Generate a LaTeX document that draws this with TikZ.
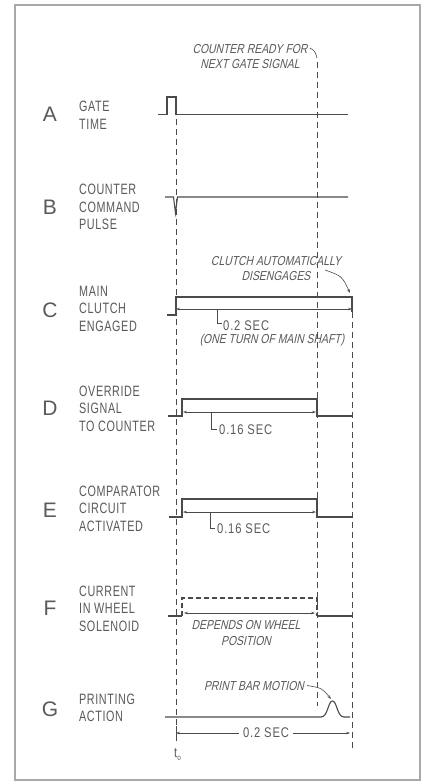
\documentclass[tikz,border=0pt]{standalone}
\usepackage{fontspec}
\setmainfont{Liberation Sans}
\newfontfamily\lblfont[FakeStretch=0.72,LetterSpace=4]{Liberation Sans}
\newfontfamily\notefont[FakeStretch=0.8,FakeSlant=0.22]{Liberation Sans}
\newfontfamily\dimfont[FakeStretch=0.8,LetterSpace=6]{Liberation Sans}
\usetikzlibrary{arrows.meta}
\definecolor{ink}{HTML}{4A4A4A}
\definecolor{txt}{HTML}{5A5A5A}
\definecolor{framec}{HTML}{A8A8A8}
\begin{document}
\begin{tikzpicture}[x=1pt,y=-1pt,
  sig/.style={draw=ink, line width=1.1pt, line join=miter},
  guide/.style={draw=ink, line width=0.8pt, dash pattern=on 6pt off 4pt},
  fdash/.style={draw=ink, line width=1.1pt, dash pattern=on 5pt off 3pt},
  thinl/.style={draw=ink, line width=0.6pt},
  dimarr/.style={draw=ink, line width=0.6pt, {Stealth[length=4pt,width=2.6pt]}-{Stealth[length=4pt,width=2.6pt]}},
  lead/.style={draw=ink, line width=0.6pt, -{Stealth[length=4pt,width=2.6pt]}},
  big/.style={text=txt, font=\fontsize{21}{21}\selectfont, inner sep=0pt},
  lbl/.style={text=txt, font=\lblfont\fontsize{15}{17.5}\selectfont, align=left, anchor=west, inner sep=0pt},
  note/.style={text=txt, font=\notefont\fontsize{13}{15.5}\selectfont, align=center, inner sep=0pt},
  dimtxt/.style={text=txt, font=\dimfont\fontsize{14}{14}\selectfont, inner sep=0pt},
]
\useasboundingbox (0,0) rectangle (427,782);
\fill[white] (0,0) rectangle (427,782);
\draw[framec, line width=1.5pt] (15,5) rectangle (420,780);

% big letters
\node[big] (LA) at (50,114) {A};
\node[big] (LB) at (50,207) {B};
\node[big] (LC) at (50,310) {C};
\node[big] (LD) at (50,408) {D};
\node[big] (LE) at (50,510) {E};
\node[big] (LF) at (50,608) {F};
\node[big] (LG) at (50,709) {G};

% row labels
\node[lbl] (TA) at (79,115.5) {GATE\\TIME};
\node[lbl] (TB) at (79,207) {COUNTER\\COMMAND\\PULSE};
\node[lbl] (TC) at (79,308.5) {MAIN\\CLUTCH\\ENGAGED};
\node[lbl] (TD) at (79,408.5) {OVERRIDE\\SIGNAL\\TO COUNTER};
\node[lbl] (TE) at (79,508.5) {COMPARATOR\\CIRCUIT\\ACTIVATED};
\node[lbl] (TF) at (79,608.5) {CURRENT\\IN WHEEL\\SOLENOID};
\node[lbl] (TG) at (79,708) {PRINTING\\ACTION};

% guide lines
\draw[guide] (176,119) -- (176,726);
\draw[guide] (317,62) -- (317,706);
\draw[guide] (352,312) -- (352,750);

% A
\draw[sig] (158,114.5) -- (167,114.5) -- (167,97) -- (176,97) -- (176,114.5) -- (348,114.5);
% B
\draw[sig] (165,197) -- (173.5,197) -- (175.5,213) -- (177.5,197) -- (348,197);
% C
\draw[sig] (167,315) -- (176,315) -- (176,297) -- (352,297) -- (352,312);
\draw[dimarr] (176,309) -- (352,309);
\draw[thinl] (217,309) -- (217,323) -- (222,323);
\node[dimtxt, anchor=base west] (C02) at (223,330) {0.2 SEC};
\node[note, anchor=base] (COT) at (272,343) {(ONE TURN OF MAIN SHAFT)};
\node[note] (CAD) at (276,268.5) {CLUTCH AUTOMATICALLY\\DISENGAGES};
\draw[lead] (325,270) .. controls (342,276) .. (350,293);
% D
\draw[sig] (168,416) -- (182,416) -- (182,399) -- (317,399) -- (317,416) -- (352,416);
\draw[dimarr] (183,412) -- (316,412);
\draw[thinl] (211,412) -- (211,429) -- (217,429);
\node[dimtxt, anchor=base west] (D16) at (219,434) {0.16 SEC};
% E
\draw[sig] (169,517) -- (182,517) -- (182,499) -- (317,499) -- (317,517) -- (352,517);
\draw[dimarr] (183,512) -- (316,512);
\draw[thinl] (210,512) -- (210,528) -- (215,528);
\node[dimtxt, anchor=base west] (E16) at (217,533) {0.16 SEC};
% F
\draw[sig] (168,616) -- (182,616);
\draw[fdash] (182,616) -- (182,598) -- (317,598) -- (317,616);
\draw[sig] (317,616) -- (352,616);
\draw[dimarr] (184,613) -- (315,613);
\node[note] (FDP) at (246,633) {DEPENDS ON WHEEL\\POSITION};
% G
\draw[sig] (165,717) -- (321,717) .. controls (328,717) and (328,701) .. (332.5,701) .. controls (337,701) and (337,717) .. (344,717) -- (350,717);
\node[note, anchor=base] (PBM) at (254,690) {PRINT BAR MOTION};
\draw[lead] (PBM.east) ++(3,0) .. controls (322,688) .. (331,699);
\draw[thinl] (176,726) -- (176,741);
\draw[dimarr] (176,733) -- (350,733);
\node[dimtxt, fill=white, inner xsep=4pt] (G02) at (266,733) {0.2 SEC};
\node[dimtxt, anchor=base west] (T0) at (174,757) {t\raisebox{-3pt}{\fontsize{8}{8}\selectfont o}};

% top note
\node[note] (CRF) at (250,56.5) {COUNTER READY FOR\\NEXT GATE SIGNAL};
\draw[thinl] (CRF.north east) ++(2,4) .. controls (315,51) .. (317,58);
\end{tikzpicture}
\end{document}
